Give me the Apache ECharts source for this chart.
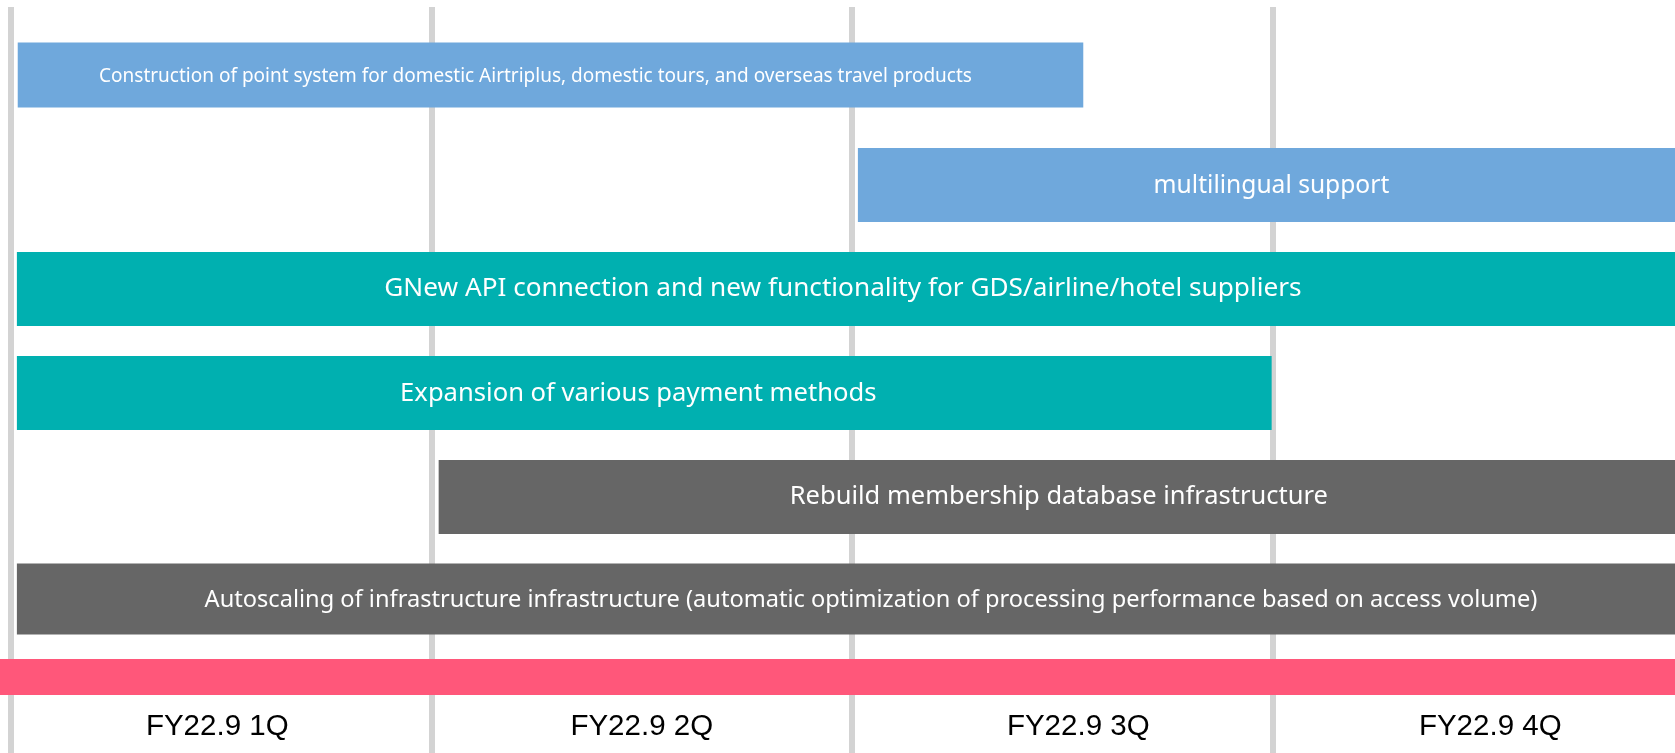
<!DOCTYPE html>
<html>
<head>
<meta charset="utf-8">
<script src="https://cdn.jsdelivr.net/npm/echarts@6/dist/echarts.min.js"></script>
<style>
html,body{margin:0;padding:0;background:#fff;overflow:hidden;width:1675px;height:753px;}
#c{width:1700px;height:753px;}
</style>
</head>
<body>
<div id="c"></div>
<script>
// ---- data ----
const quarters = ['FY22.9 1Q', 'FY22.9 2Q', 'FY22.9 3Q', 'FY22.9 4Q'];
const tasks = [
  'Construction of point system for domestic Airtriplus, domestic tours, and overseas travel products',
  'multilingual support',
  'GNew API connection and new functionality for GDS/airline/hotel suppliers',
  'Expansion of various payment methods',
  'Rebuild membership database infrastructure',
  'Autoscaling of infrastructure infrastructure (automatic optimization of processing performance based on access volume)'
];
const taskStart = [0.016, 2.014, 0.014, 0.014, 1.017, 0.014];   // in quarters
const taskEnd   = [2.55, 4, 4, 2.998, 4, 4];
const taskGroup = ['service', 'service', 'supplier', 'supplier', 'infra', 'infra'];
const timelineStart = [-0.03];
const timelineEnd = [4];

// ---- styles ----
const groupColors = { service: '#6fa8dc', supplier: '#00b0b0', infra: '#666666' };
const barHeights = [65, 74, 74, 74, 74, 71];
const barShiftY = [-6, 0, 0, 0, 0, -2];
const textShiftX = [-15, -4, -12, -6, -7, 16];
const textShiftY = [2, 1, 0, 1, 0, 1];
const fontSizes = [19, 24.6, 26.2, 25.6, 25.5, 23.6];
const textFont = '"Noto Sans", sans-serif';
const quarterLabelPad = [[0, 8, 0, 0], [0, 0, 0, 0], [0, 0, 0, 32], [0, 0, 0, 15]];

const taskData = tasks.map((t, i) => [i, taskStart[i], taskEnd[i]]);
const timelineData = timelineStart.map((s, i) => [i, s, timelineEnd[i]]);

const rich = {};
quarterLabelPad.forEach((p, i) => {
  rich['q' + i] = { padding: p, color: '#000', fontSize: 29.5,
    fontFamily: '"Liberation Sans", Arial, sans-serif' };
});

const chart = echarts.init(document.getElementById('c'), null, { renderer: 'canvas' });

chart.setOption({
  animation: false,
  backgroundColor: '#ffffff',
  grid: [
    { left: 11, width: 1682, top: 7, bottom: 0 },      // background quarters
    { left: 11, width: 1682, top: 29, height: 624 },   // tasks
    { left: 11, width: 1682, top: 659, height: 36 }    // timeline
  ],
  xAxis: [
    {
      gridIndex: 0, type: 'category', data: quarters, boundaryGap: true,
      axisLine: { show: false }, axisTick: { show: false },
      splitLine: { show: true, lineStyle: { color: '#d3d3d3', width: 6 } },
      axisLabel: { inside: true, margin: 11, color: '#000', fontSize: 29.5,
        fontFamily: '"Liberation Sans", Arial, sans-serif',
        formatter: function (v, i) { return '{q' + i + '|' + v + '}'; },
        rich: rich }
    },
    { gridIndex: 1, type: 'value', min: 0, max: 4, show: false },
    { gridIndex: 2, type: 'value', min: 0, max: 4, show: false }
  ],
  yAxis: [
    { gridIndex: 0, type: 'value', show: false },
    { gridIndex: 1, type: 'category', data: tasks, inverse: true, show: false },
    { gridIndex: 2, type: 'category', data: ['timeline'], show: false }
  ],
  series: [
    {
      type: 'custom', xAxisIndex: 1, yAxisIndex: 1, clip: false,
      encode: { x: [1, 2], y: 0 },
      data: taskData,
      renderItem: function (params, api) {
        const idx = api.value(0);
        const p0 = api.coord([api.value(1), idx]);
        const p1 = api.coord([api.value(2), idx]);
        const h = barHeights[idx];
        return {
          type: 'rect',
          shape: { x: p0[0], y: p0[1] - h / 2 + barShiftY[idx], width: p1[0] - p0[0], height: h },
          style: { fill: groupColors[taskGroup[idx]] },
          textContent: {
            style: { text: tasks[idx], fill: '#ffffff', fontSize: fontSizes[idx], fontFamily: textFont }
          },
          textConfig: { position: 'inside', offset: [textShiftX[idx], textShiftY[idx]] }
        };
      }
    },
    {
      type: 'custom', xAxisIndex: 2, yAxisIndex: 2, clip: false,
      encode: { x: [1, 2], y: 0 },
      data: timelineData,
      renderItem: function (params, api) {
        const idx = api.value(0);
        const p0 = api.coord([api.value(1), idx]);
        const p1 = api.coord([api.value(2), idx]);
        const h = api.size([0, 1])[1];
        return {
          type: 'rect',
          shape: { x: p0[0], y: p0[1] - h / 2, width: p1[0] - p0[0], height: h },
          style: { fill: '#ff577a' }
        };
      }
    }
  ]
});
</script>
</body>
</html>
